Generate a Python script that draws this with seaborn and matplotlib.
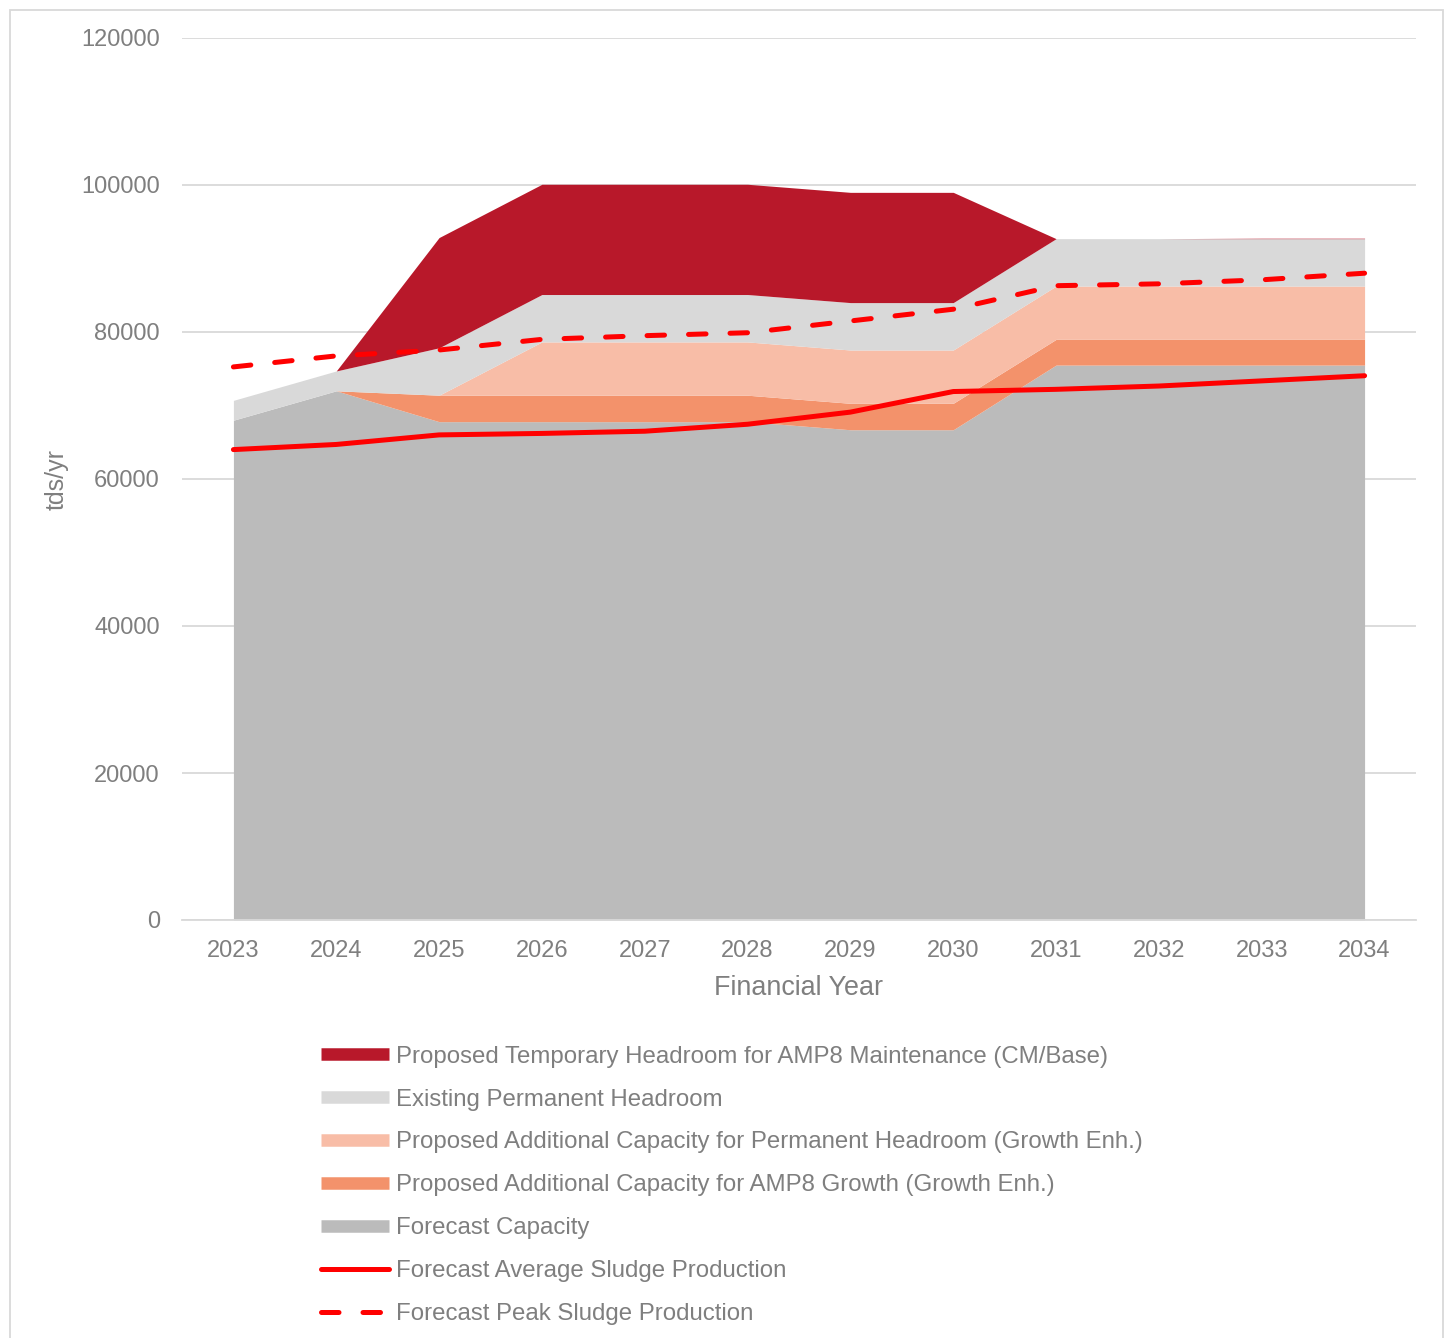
import matplotlib
matplotlib.use("Agg")
import matplotlib.pyplot as plt
import matplotlib.patches as mpatches
from matplotlib.lines import Line2D
import seaborn as sns
import pandas as pd
import numpy as np

years = ["2023", "2024", "2025", "2026", "2027", "2028", "2029", "2030", "2031", "2032", "2033", "2034"]
forecast_capacity = [68000, 72000, 67800, 67800, 67800, 67800, 66700, 66700, 75500, 75500, 75500, 75500]
growth_amp8 = [0, 0, 3600, 3600, 3600, 3600, 3600, 3600, 3500, 3500, 3500, 3500]
growth_perm_headroom = [0, 0, 0, 7250, 7250, 7250, 7250, 7250, 7250, 7250, 7250, 7250]
existing_headroom = [2700, 2700, 6450, 6450, 6450, 6450, 6450, 6450, 6450, 6450, 6450, 6450]
temp_headroom = [0, 0, 15000, 15000, 15000, 15000, 15000, 15000, 0, 0, 60, 60]
avg_sludge = [64000, 64700, 66000, 66200, 66500, 67450, 69100, 71900, 72200, 72650, 73350, 74050]
peak_sludge = [75250, 76750, 77550, 79000, 79500, 79900, 81500, 83100, 86300, 86550, 87100, 88000]

labels = [
    "Proposed Temporary Headroom for AMP8 Maintenance (CM/Base)",
    "Existing Permanent Headroom",
    "Proposed Additional Capacity for Permanent Headroom (Growth Enh.)",
    "Proposed Additional Capacity for AMP8 Growth (Growth Enh.)",
    "Forecast Capacity",
    "Forecast Average Sludge Production",
    "Forecast Peak Sludge Production",
]

c_red = "#B8182A"
c_lgray = "#D9D9D9"
c_pink = "#F8BDA7"
c_orange = "#F3926B"
c_gray = "#BBBBBB"
c_line = "#FF0000"
c_text = "#7F7F7F"

sns.set_theme(style="white")
plt.rcParams["font.family"] = ["Liberation Sans", "DejaVu Sans"]

fig = plt.figure(figsize=(14.53, 13.38), dpi=100)
ax = fig.add_axes([182 / 1453, 1 - 920 / 1338, (1416 - 182) / 1453, (920 - 38) / 1338])

x = np.arange(len(years))
ax.stackplot(x, forecast_capacity, growth_amp8, growth_perm_headroom, existing_headroom, temp_headroom,
             colors=[c_gray, c_orange, c_pink, c_lgray, c_red], linewidth=0, zorder=2)

df = pd.DataFrame({"x": x, "avg": avg_sludge, "peak": peak_sludge})
sns.lineplot(data=df, x="x", y="avg", ax=ax, color=c_line, linewidth=3.6, legend=False, zorder=4,
             solid_capstyle="round")
sns.lineplot(data=df, x="x", y="peak", ax=ax, color=c_line, linewidth=3.6, legend=False, zorder=4,
             dashes=False)
peak_line = ax.lines[-1]
peak_line.set_dashes([3.5, 4.8])
peak_line.set_dash_capstyle("round")

ax.set_xlim(-0.5, len(years) - 0.5)
ax.set_ylim(0, 120000)
ax.set_yticks(np.arange(0, 120001, 20000))
ax.set_xticks(x)
ax.set_xticklabels(years)
ax.grid(axis="y", color="#D9D9D9", linewidth=1.3, zorder=0)
ax.set_axisbelow(True)
for s in ["top", "right", "left"]:
    ax.spines[s].set_visible(False)
ax.spines["bottom"].set_color("#D9D9D9")
ax.spines["bottom"].set_linewidth(1.3)
ax.tick_params(axis="both", length=0, labelsize=17, labelcolor=c_text)
ax.tick_params(axis="y", pad=16)
ax.tick_params(axis="x", pad=14.5)
ax.set_xlabel("Financial Year", fontsize=19.4, color=c_text, labelpad=9.5)
ax.set_ylabel("tds/yr", fontsize=18, color=c_text, labelpad=9)

handles = [
    Line2D([0], [0], color=c_red, linewidth=9, solid_capstyle="butt"),
    Line2D([0], [0], color=c_lgray, linewidth=9, solid_capstyle="butt"),
    Line2D([0], [0], color=c_pink, linewidth=9, solid_capstyle="butt"),
    Line2D([0], [0], color=c_orange, linewidth=9, solid_capstyle="butt"),
    Line2D([0], [0], color=c_gray, linewidth=9, solid_capstyle="butt"),
    Line2D([0], [0], color=c_line, linewidth=3.6, solid_capstyle="round"),
    Line2D([0], [0], color=c_line, linewidth=3.6, dashes=[3.5, 4.8], dash_capstyle="round"),
]
leg = fig.legend(handles, labels, loc="upper left", bbox_to_anchor=(311 / 1453, 1 - 1036 / 1338),
                 frameon=False, fontsize=17.3, handlelength=2.85, handletextpad=0.3,
                 labelspacing=0.87, borderaxespad=0)
for t in leg.get_texts():
    t.set_color(c_text)

border = mpatches.Rectangle((10 / 1453, -0.01), (1443 - 10) / 1453, 1 - 10 / 1338 + 0.01,
                            transform=fig.transFigure, fill=False, edgecolor="#D9D9D9", linewidth=1.3)
fig.add_artist(border)

fig.savefig("out.png", dpi=100, facecolor="white")
